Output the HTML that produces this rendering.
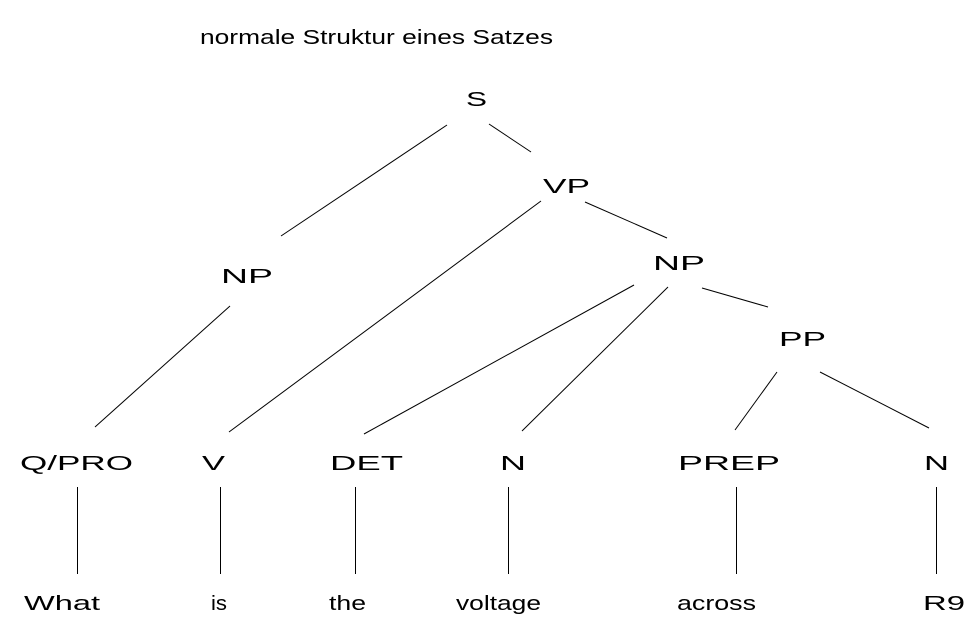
<!DOCTYPE html>
<html><head><meta charset="utf-8"><style>html,body{margin:0;padding:0;background:#fff}svg{display:block}</style></head>
<body>
<svg width="970" height="639" viewBox="0 0 970 639" xmlns="http://www.w3.org/2000/svg" font-family="Liberation Sans, Arial, sans-serif" font-size="20" fill="#000">
<g stroke="#000" stroke-width="1">
<line x1="447" y1="125" x2="281" y2="236"/>
<line x1="489" y1="124" x2="531" y2="152"/>
<line x1="541" y1="201" x2="229" y2="432"/>
<line x1="585" y1="202" x2="667" y2="238"/>
<line x1="230" y1="306" x2="95" y2="427"/>
<line x1="634" y1="285" x2="364" y2="434"/>
<line x1="668" y1="287" x2="522" y2="431"/>
<line x1="702" y1="288" x2="768" y2="307"/>
<line x1="777" y1="372" x2="735" y2="430"/>
<line x1="820" y1="372" x2="929" y2="428"/>
<line x1="77.5" y1="487" x2="77.5" y2="574"/>
<line x1="220.5" y1="487" x2="220.5" y2="574"/>
<line x1="355.5" y1="487" x2="355.5" y2="574"/>
<line x1="508.5" y1="487" x2="508.5" y2="574"/>
<line x1="736.5" y1="487" x2="736.5" y2="574"/>
<line x1="936.5" y1="487" x2="936.5" y2="574"/>
</g>
<text x="200" y="44" textLength="353" lengthAdjust="spacingAndGlyphs">normale Struktur eines Satzes</text>
<text x="466" y="106" textLength="21" lengthAdjust="spacingAndGlyphs">S</text>
<text x="543" y="193" textLength="47" lengthAdjust="spacingAndGlyphs">VP</text>
<text x="221" y="283" textLength="52" lengthAdjust="spacingAndGlyphs">NP</text>
<text x="653" y="270" textLength="52" lengthAdjust="spacingAndGlyphs">NP</text>
<text x="779" y="346" textLength="47" lengthAdjust="spacingAndGlyphs">PP</text>
<text x="20" y="470" textLength="113" lengthAdjust="spacingAndGlyphs">Q/PRO</text>
<text x="202" y="470" textLength="23" lengthAdjust="spacingAndGlyphs">V</text>
<text x="330" y="470" textLength="73" lengthAdjust="spacingAndGlyphs">DET</text>
<text x="500" y="470" textLength="26" lengthAdjust="spacingAndGlyphs">N</text>
<text x="678" y="470" textLength="102" lengthAdjust="spacingAndGlyphs">PREP</text>
<text x="924" y="470" textLength="25" lengthAdjust="spacingAndGlyphs">N</text>
<text x="24" y="610" textLength="76" lengthAdjust="spacingAndGlyphs">What</text>
<text x="211" y="610" textLength="16" lengthAdjust="spacingAndGlyphs">is</text>
<text x="329" y="610" textLength="37" lengthAdjust="spacingAndGlyphs">the</text>
<text x="456" y="610" textLength="85" lengthAdjust="spacingAndGlyphs">voltage</text>
<text x="677" y="610" textLength="79" lengthAdjust="spacingAndGlyphs">across</text>
<text x="923" y="610" textLength="42" lengthAdjust="spacingAndGlyphs">R9</text>
</svg>
</body></html>
